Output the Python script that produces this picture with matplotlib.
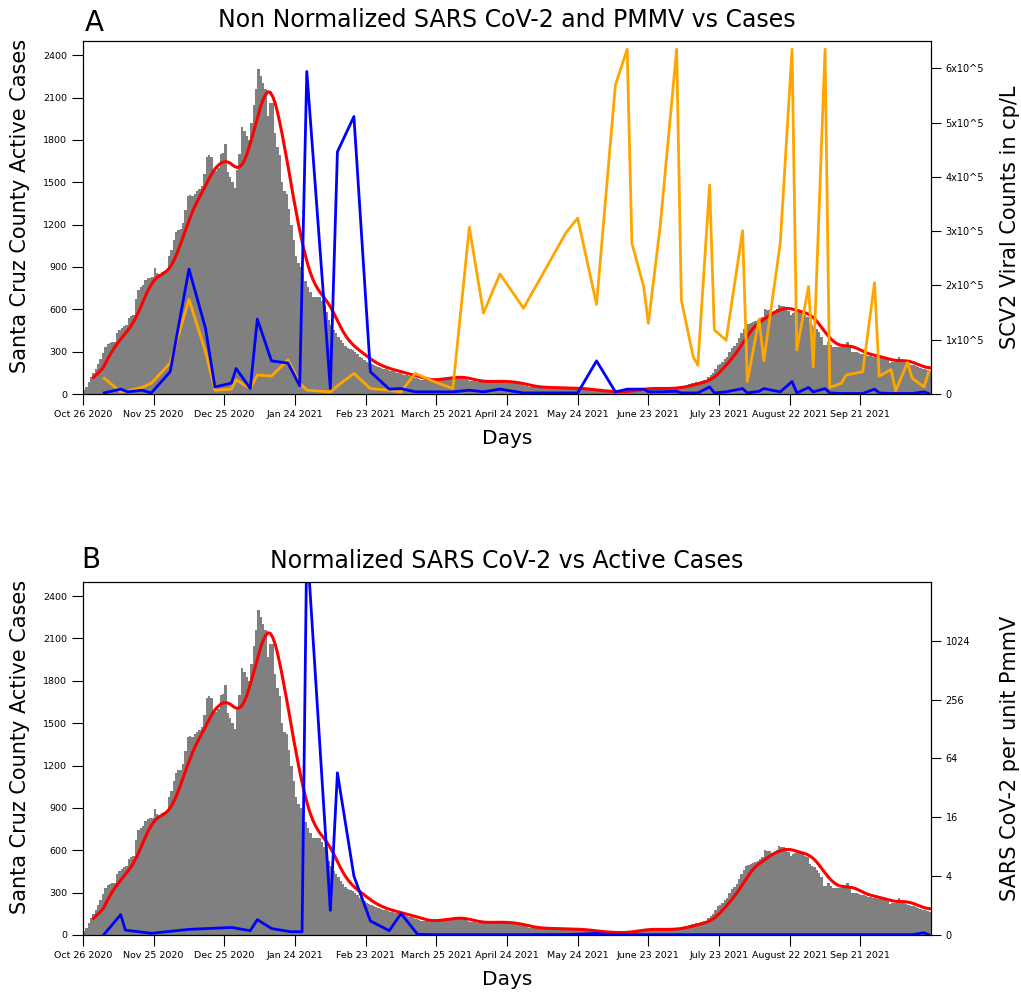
import numpy as np
import pandas as pd
from matplotlib import pyplot as plt

# daily active cases, day 0 = Oct 26 2020
cases = [25, 50, 85, 120, 150, 180, 215, 245, 290, 335,
         355, 360, 365, 370, 430, 450, 470, 480, 490, 540,
         550, 560, 670, 740, 760, 770, 810, 820, 825, 830,
         890, 860, 850, 865, 870, 880, 975, 1020, 1090, 1150,
         1165, 1170, 1210, 1300, 1400, 1410, 1400, 1420, 1440, 1450,
         1470, 1560, 1680, 1690, 1680, 1570, 1580, 1600, 1700, 1710,
         1770, 1570, 1540, 1500, 1460, 1590, 1700, 1890, 1860, 1830,
         1800, 1920, 2050, 2160, 2300, 2250, 2200, 2160, 1970, 2060,
         2060, 1850, 1750, 1690, 1500, 1440, 1420, 1310, 1200, 1090,
         975, 930, 900, 860, 800, 760, 720, 690, 690, 690,
         690, 660, 620, 580, 525, 490, 455, 430, 407, 385,
         360, 340, 325, 318, 312, 300, 285, 265, 255, 240,
         229, 220, 210, 205, 195, 188, 182, 178, 174, 170,
         165, 160, 158, 152, 146, 142, 138, 135, 130, 127,
         123, 115, 105, 100, 99, 98, 97, 99, 102, 106,
         111, 112, 110, 112, 115, 120, 123, 124, 122, 118,
         115, 110, 105, 100, 95, 92, 90, 88, 87, 87,
         88, 90, 90, 92, 92, 90, 90, 88, 87, 87,
         86, 84, 80, 76, 72, 68, 64, 60, 56, 52,
         50, 48, 47, 47, 47, 46, 46, 46, 45, 45,
         44, 44, 43, 43, 42, 42, 41, 41, 40, 40,
         38, 36, 34, 32, 30, 28, 26, 24, 22, 20,
         19, 18, 17, 17, 16, 16, 17, 17, 18, 19,
         21, 24, 27, 30, 33, 36, 38, 40, 40, 41,
         40, 40, 39, 38, 38, 38, 39, 40, 41, 42,
         43, 45, 48, 52, 56, 60, 65, 70, 75, 80,
         85, 87, 92, 96, 100, 118, 135, 150, 175, 206,
         215, 229, 245, 265, 295, 324, 340, 360, 395, 430,
         460, 490, 496, 502, 510, 518, 525, 537, 549, 601,
         598, 596, 584, 572, 600, 631, 625, 620, 615, 590,
         561, 575, 584, 584, 584, 584, 560, 549, 502, 490,
         478, 460, 442, 407, 350, 348, 371, 350, 336, 336,
         336, 336, 336, 345, 371, 330, 300, 300, 295, 289,
         285, 280, 277, 272, 268, 265, 260, 256, 253, 248,
         245, 241, 218, 224, 229, 245, 265, 240, 225, 218,
         212, 208, 206, 200, 190, 182, 178, 175, 170, 165]

# sampling days for wastewater
sample_days = [9, 16, 19, 25, 29, 37, 45, 52, 56, 63, 65, 71, 74, 80, 87, 92, 95,
               105, 108, 115, 122, 130, 135, 141, 149, 157, 164, 170, 177, 187,
               205, 210, 218, 226, 231, 233, 238, 240, 245, 252, 254, 259, 261,
               266, 268, 273, 280, 282, 287, 289, 296, 301, 303, 308, 310, 315,
               317, 322, 324, 331, 336, 338, 343, 345, 350, 352, 357, 359]
# x10^5 cp/L
pmmv = [0.29, 0.04, 0.06, 0.12, 0.2, 0.57, 1.74, 0.78, 0.07, 0.09, 0.26, 0.1, 0.35,
        0.33, 0.63, 0.2, 0.07, 0.04, 0.15, 0.38, 0.1, 0.07, 0.04, 0.38, 0.23, 0.1,
        3.07, 1.49, 2.21, 1.58, 2.97, 3.24, 1.65, 5.69, 6.35, 2.78, 1.98, 1.30,
        3.08, 6.35, 1.73, 0.69, 0.53, 3.85, 1.18, 0.99, 3.01, 0.23, 1.38, 0.61,
        2.78, 6.35, 0.81, 1.98, 0.5, 6.35, 0.12, 0.2, 0.35, 0.41, 2.05, 0.33,
        0.45, 0.06, 0.58, 0.29, 0.13, 0.41]
scv2 = [0.02, 0.09, 0.04, 0.07, 0.02, 0.41, 2.30, 1.21, 0.13, 0.2, 0.47, 0.1, 1.38,
        0.61, 0.57, 0.15, 5.94, 0.1, 4.46, 5.11, 0.41, 0.09, 0.1, 0.04, 0.04, 0.04,
        0.07, 0.04, 0.09, 0.02, 0.02, 0.02, 0.61, 0.04, 0.09, 0.09, 0.09, 0.04,
        0.04, 0.05, 0.02, 0.02, 0.02, 0.13, 0.02, 0.04, 0.1, 0.02, 0.05, 0.1,
        0.04, 0.23, 0.02, 0.12, 0.04, 0.1, 0.02, 0.01, 0.01, 0.01, 0.09, 0.02,
        0.01, 0.01, 0.01, 0.01, 0.04, 0.01]

# normalized SARS CoV-2 per unit PMMV
norm_days = [9, 16, 18, 29, 45, 63, 71, 74, 80, 88, 93, 95, 105, 108, 115, 122,
             130, 135, 142, 149, 157, 164, 170, 177, 187, 205, 210, 218, 226, 238,
             252, 266, 280, 296, 310, 324, 338, 352, 357, 359]
norm = [0.05, 1.38, 0.33, 0.11, 0.38, 0.51, 0.29, 1.04, 0.44, 0.22, 0.22, 11000,
        1.67, 45.6, 4.0, 0.95, 0.29, 1.45, 0.05, 0.02, 0.02, 0.02, 0.02, 0.02,
        0.02, 0.03, 0.05, 0.1, 0.02, 0.02, 0.02, 0.02, 0.02, 0.02, 0.02, 0.02,
        0.02, 0.02, 0.15, 0.02]

tick_days = list(range(0, 360, 30))
tick_labels = ['Oct 26 2020', 'Nov 25 2020', 'Dec 25 2020', 'Jan 24 2021', 'Feb 23 2021',
               'March 25 2021', 'April 24 2021', 'May 24 2021', 'June 23 2021',
               'July 23 2021', 'August 22 2021', 'Sep 21 2021']

days = np.arange(len(cases))
# 7 day average, lightly smoothed
avg = pd.Series(cases).rolling(7).mean()
avg = avg.rolling(5, center=True, min_periods=1).mean()

fig = plt.figure(figsize=(10.21, 9.94), dpi=100)
ax_a = fig.add_axes([0.0813, 0.6036, 0.8306, 0.3551])
ax_b = fig.add_axes([0.0813, 0.0594, 0.8306, 0.3551])


def base(ax):
    ax.bar(days, cases, width=1.0, align='edge', color='gray', linewidth=0)
    ax.plot(days + 0.5, avg, color='red', lw=2.2)
    ax.set_xlim(0, 360)
    ax.set_ylim(0, 2500)
    ax.set_yticks(range(0, 2401, 300))
    ax.tick_params(axis='y', labelsize=6.8, length=8)
    ax.set_xticks(tick_days)
    ax.set_xticklabels(tick_labels, fontsize=6.8)
    ax.tick_params(axis='x', length=8)
    ax.set_xlabel('Days', fontsize=14.5, labelpad=7)
    ax.set_ylabel('Santa Cruz County Active Cases', fontsize=15)
    ax.yaxis.set_label_coords(-0.0625, 0.534)


def right_label(ax, text):
    ax.set_ylabel(text, fontsize=15)
    ax.yaxis.set_label_coords(1.0814, 0.5)


# A
base(ax_a)
ax_a.set_title('Non Normalized SARS CoV-2 and PMMV vs Cases', fontsize=17, pad=10)
ra = ax_a.twinx()
ra.plot(sample_days, np.array(pmmv) * 1e5, color='orange', lw=2)
ra.plot(sample_days, np.array(scv2) * 1e5, color='blue', lw=2)
ra.set_ylim(0, 6.5e5)
ra.set_yticks([i * 1e5 for i in range(7)])
ra.set_yticklabels(['0'] + ['%dx10^5' % i for i in range(1, 7)], fontsize=7)
ra.tick_params(axis='y', length=7)
right_label(ra, 'SCV2 Viral Counts in cp/L')
fig.text(0.083, 0.969, 'A', fontsize=20)

# B
base(ax_b)
ax_b.set_title('Normalized SARS CoV-2 vs Active Cases', fontsize=17, pad=10)
rb = ax_b.twinx()
rb.plot(norm_days, norm, color='blue', lw=2)
rb.set_yscale('symlog', base=4, linthresh=4, linscale=0.75)
rb.set_ylim(0, 4096)
rb.set_yticks([0, 4, 16, 64, 256, 1024])
rb.set_yticklabels(['0', '4', '16', '64', '256', '1024'], fontsize=7)
rb.yaxis.set_minor_locator(plt.NullLocator())
rb.tick_params(axis='y', length=7)
right_label(rb, 'SARS CoV-2 per unit PmmV')
fig.text(0.08, 0.429, 'B', fontsize=20)

plt.savefig('out.png', dpi=100)
